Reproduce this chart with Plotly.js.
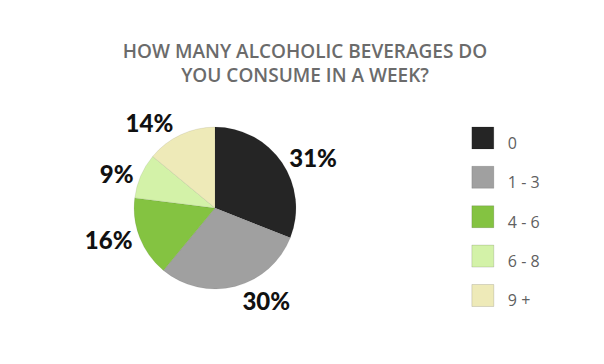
<!DOCTYPE html>
<html>
<head>
<meta charset="utf-8">
<script src="https://cdn.plot.ly/plotly-3.0.1.min.js"></script>
<style>
html,body{margin:0;padding:0;background:#fff}
#chart{width:604px;height:364px}
#chart .legendpoints path{transform:translate(25px,0px) scale(1.83)}
</style>
</head>
<body>
<div id="chart"></div>
<script>
const categories = ["0", "1 - 3", "4 - 6", "6 - 8", "9 +"];
const shares = [31, 30, 16, 9, 14];
const sliceColors = ["#252525", "#a0a0a0", "#84c341", "#d3f2a8", "#eeeab8"];
const chartTitle = "HOW MANY ALCOHOLIC BEVERAGES DO<br>YOU CONSUME IN A WEEK?";

const trace = {
  type: "pie",
  labels: categories.map(c => '<span style="font-size:16px">' + c + '</span>'),
  values: shares,
  sort: false,
  direction: "clockwise",
  rotation: 0,
  marker: {colors: sliceColors, line: {color: "rgba(0,0,0,0.15)", width: 0.5}},
  texttemplate: "%{percent:.0%}",
  textposition: "outside",
  outsidetextfont: {family: "Lato, 'Open Sans', sans-serif", size: 24, color: "#111", weight: 900},
  automargin: false,
  domain: {x: [0.222, 0.490], y: [0.206, 0.651]},
  hoverinfo: "label+percent"
};

const layout = {
  width: 604, height: 364,
  margin: {l: 0, r: 0, t: 0, b: 0},
  paper_bgcolor: "#fff",
  title: {
    text: chartTitle,
    font: {family: "'Open Sans', Lato, sans-serif", size: 19, color: "#6b6b6b", weight: 600},
    x: 0.505, xanchor: "center", y: 0.842, yanchor: "middle"
  },
  showlegend: true,
  legend: {
    x: 0.758, xanchor: "left", y: 0.689, yanchor: "top",
    font: {family: "'Open Sans', sans-serif", size: 28, color: "#606060"},
    itemwidth: 40,
    traceorder: "normal"
  }
};

Plotly.newPlot("chart", [trace], layout, {displayModeBar: false, staticPlot: true});
</script>
</body>
</html>
